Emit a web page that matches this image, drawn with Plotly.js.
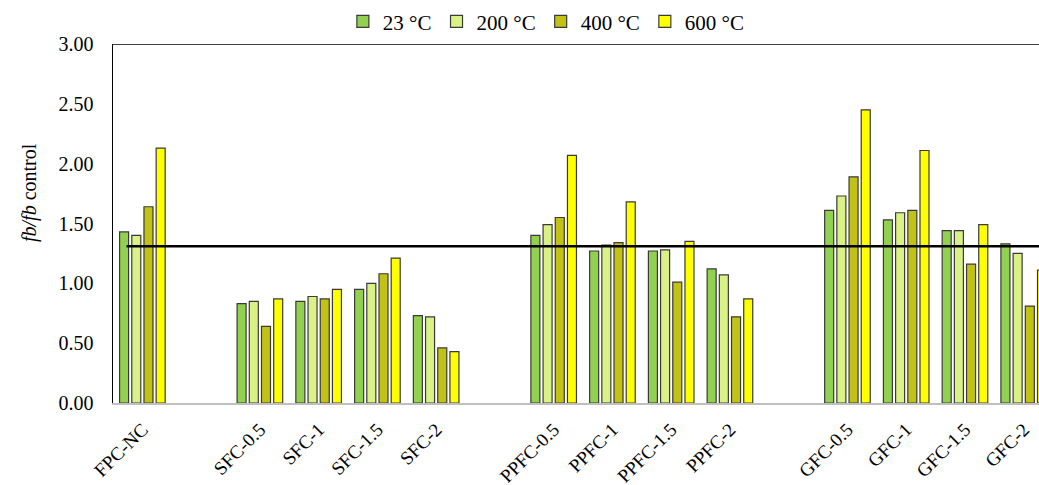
<!DOCTYPE html>
<html>
<head>
<meta charset="utf-8">
<script src="https://cdn.plot.ly/plotly-3.0.1.min.js"></script>
<style>
  html, body { margin: 0; padding: 0; background: #ffffff; }
  #chart { width: 1039px; height: 485px; }
</style>
</head>
<body>
<div id="chart"></div>
<script>
// Specimen groups; blank entries leave a gap between the families
const categories = ['FPC-NC', ' ', 'SFC-0.5', 'SFC-1', 'SFC-1.5', 'SFC-2', '  ',
  'PPFC-0.5', 'PPFC-1', 'PPFC-1.5', 'PPFC-2', '   ',
  'GFC-0.5', 'GFC-1', 'GFC-1.5', 'GFC-2'];

const seriesNames = ['23 °C', '200 °C', '400 °C', '600 °C'];

// fb / fb control ratio for each exposure temperature (null = gap column)
const t23  = [1.43, null, 0.83, 0.85, 0.95, 0.73, null, 1.40, 1.27, 1.27, 1.12, null, 1.61, 1.53, 1.44, 1.33];
const t200 = [1.40, null, 0.85, 0.89, 1.00, 0.72, null, 1.49, 1.32, 1.28, 1.07, null, 1.73, 1.59, 1.44, 1.25];
const t400 = [1.64, null, 0.64, 0.87, 1.08, 0.46, null, 1.55, 1.34, 1.01, 0.72, null, 1.89, 1.61, 1.16, 0.81];
const t600 = [2.13, null, 0.87, 0.95, 1.21, 0.43, null, 2.07, 1.68, 1.35, 0.87, null, 2.45, 2.11, 1.49, 1.11];

// Control reference level
const controlLevel = 1.31;

const yTitle = '<i>fb/fb</i> control';

const colors = ['#92D050', '#DAF285', '#C2C214', '#FFFF00'];
const seriesValues = [t23, t200, t400, t600];

const traces = seriesValues.map((vals, i) => ({
  type: 'bar',
  name: seriesNames[i],
  x: categories,
  y: vals,
  marker: { color: colors[i], line: { color: '#3a3a3a', width: 1.2 } },
  hoverinfo: 'x+y+name'
}));

const serif = 'Liberation Serif, Times New Roman, serif';

const layout = {
  width: 1039,
  height: 485,
  margin: { l: 113, r: 0, t: 44, b: 82 },
  paper_bgcolor: '#ffffff',
  plot_bgcolor: '#ffffff',
  font: { family: serif, size: 20, color: '#000000' },
  barmode: 'group',
  bargap: 0.17,
  bargroupgap: 0.26,
  showlegend: true,
  legend: {
    orientation: 'h',
    x: 0.468, xanchor: 'center',
    y: 1.062, yanchor: 'middle',
    font: { family: serif, size: 21, color: '#000000' },
    itemwidth: 30,
    traceorder: 'normal'
  },
  xaxis: {
    type: 'category',
    categoryorder: 'array',
    categoryarray: categories,
    range: [-0.5, 15.26],
    tickangle: -45,
    tickfont: { family: serif, size: 19, color: '#000000' },
    showline: true,
    linecolor: '#BFBFBF',
    linewidth: 2,
    showgrid: false,
    ticks: 'outside',
    ticklen: 6,
    tickcolor: 'rgba(0,0,0,0)',
    zeroline: false
  },
  yaxis: {
    range: [0, 3],
    dtick: 0.5,
    tick0: 0,
    tickformat: '.2f',
    tickfont: { family: serif, size: 20, color: '#000000' },
    showline: true,
    linecolor: '#000000',
    linewidth: 1.5,
    showgrid: false,
    zeroline: false,
    ticks: 'outside',
    ticklen: 14,
    tickcolor: 'rgba(0,0,0,0)'
  },
  annotations: [
    { text: yTitle, xref: 'paper', yref: 'paper', x: -0.0896, y: 0.585,
      textangle: -90, showarrow: false, xanchor: 'center', yanchor: 'middle',
      font: { family: serif, size: 20, color: '#000000' } }
  ],
  shapes: [
    // top frame line
    { type: 'line', xref: 'paper', yref: 'y', x0: 0, x1: 1, y0: 3, y1: 3,
      line: { color: '#000000', width: 1.5 } },
    // control level
    { type: 'line', xref: 'x', yref: 'y', x0: -0.27, x1: 16, y0: controlLevel, y1: controlLevel,
      line: { color: '#000000', width: 2.5 } }
  ]
};

Plotly.newPlot('chart', traces, layout, { displayModeBar: false, staticPlot: true });
</script>
</body>
</html>
